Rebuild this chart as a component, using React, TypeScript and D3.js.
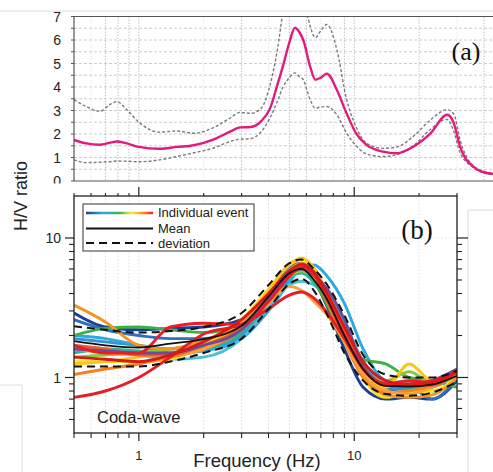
import React from "react";
import * as d3 from "d3";

const W = 493;
const H = 472;

// ---- panel (a): mean H/V with +/- one deviation ----
const freqA = [0.5, 0.57, 0.66, 0.73, 0.79, 0.88, 1.0, 1.25, 1.5, 1.8, 2.2, 2.65, 2.95, 3.3, 3.7, 4.07, 4.4, 4.67, 5.0, 5.3, 5.55, 5.8, 6.24, 6.6, 7.0, 7.46, 8.3, 9.2, 10.2, 11.4, 13.6, 15.8, 18.8, 22.6, 27, 29, 31, 35.7, 41.7, 48];
const meanA = [1.75, 1.6, 1.54, 1.62, 1.68, 1.6, 1.45, 1.37, 1.45, 1.52, 1.75, 2.1, 2.28, 2.3, 2.55, 3.1, 4.1, 4.9, 5.9, 6.52, 6.35, 6.0, 4.88, 4.31, 4.4, 4.57, 3.88, 2.89, 2.03, 1.54, 1.25, 1.18, 1.46, 2.03, 2.82, 2.46, 1.46, 0.61, 0.33, 0.28];
const upperA = [3.46, 3.17, 2.96, 3.24, 3.38, 3.03, 2.5, 2.08, 2.13, 2.03, 2.25, 2.68, 2.92, 2.88, 3.1, 4.1, 5.6, 7.2, 8.5, 9, 9, 8, 6.6, 6.1, 6.4, 6.66, 5.6, 3.5, 2.3, 1.61, 1.39, 1.45, 1.9, 2.6, 3.03, 2.85, 1.75, 0.65, 0.36, 0.3];
const lowerA = [0.9, 0.78, 0.8, 0.82, 0.85, 0.84, 0.82, 0.9, 1.04, 1.2, 1.39, 1.68, 1.78, 1.8, 2.1, 2.7, 3.4, 4.0, 4.4, 4.6, 4.45, 4.31, 3.46, 3.1, 3.15, 3.17, 2.82, 2.05, 1.5, 1.15, 1.04, 1.12, 1.5, 2.2, 2.62, 2.1, 1.2, 0.58, 0.3, 0.26];
const yTicksA = [0, 1, 2, 3, 4, 5, 6, 7];
const gridStrongA = [0.7, 0.8, 0.9, 1, 3, 5, 6, 9, 10, 20, 40];
const gridFaintA = [0.6, 2, 4, 7, 8, 30];

// ---- panel (b): coda-wave H/V of individual events ----
const freqB = [0.5, 0.7, 1, 1.4, 2, 3, 4, 5, 5.7, 6.5, 7.5, 9, 11, 14, 18, 23, 30];
const eventColors = ["#1c3f95", "#2e6fc0", "#3b8fd9", "#29abe2", "#48c1d9", "#2bb3a0", "#3fae49", "#8dc63f", "#f9e21c", "#fcc419", "#f7941d", "#f58220", "#f7a13a", "#f15a24", "#6a4c9c", "#ed1c24", "#e41e26", "#d7191c"];
const ev1 = [2.9, 2.3, 2.2, 2.25, 2.3, 2.6, 4.2, 6.0, 6.3, 5.0, 3.2, 1.6, 0.85, 0.7, 0.72, 0.7, 0.95];
const ev2 = [2.6, 2.2, 2.0, 1.9, 1.9, 2.3, 3.9, 6.2, 6.6, 5.6, 3.8, 2.0, 1.05, 0.8, 0.85, 0.7, 1.0];
const ev3 = [1.9, 1.8, 1.7, 1.6, 1.6, 2.0, 3.3, 5.0, 6.0, 5.3, 3.6, 2.1, 1.1, 0.85, 0.82, 0.85, 1.05];
const ev4 = [2.0, 1.9, 1.7, 1.5, 1.55, 1.9, 3.0, 4.8, 6.2, 6.4, 5.3, 3.4, 1.6, 0.95, 0.9, 0.95, 1.1];
const ev5 = [1.7, 1.6, 1.45, 1.35, 1.4, 1.9, 3.2, 4.6, 4.9, 4.6, 3.8, 2.5, 1.3, 0.9, 0.95, 0.8, 1.0];
const ev6 = [1.5, 1.6, 1.55, 1.5, 1.6, 2.1, 3.5, 5.2, 5.6, 4.8, 3.4, 1.9, 1.1, 0.92, 0.85, 0.9, 1.1];
const ev7 = [2.0, 2.25, 2.3, 2.2, 2.1, 2.4, 3.8, 5.6, 6.0, 5.0, 3.3, 1.8, 1.35, 1.25, 1.0, 0.95, 0.85];
const ev8 = [1.4, 1.45, 1.5, 1.6, 1.8, 2.3, 3.6, 5.3, 5.8, 5.2, 3.6, 2.0, 1.1, 0.95, 1.1, 0.92, 1.0];
const ev9 = [1.3, 1.3, 1.3, 1.35, 1.7, 2.6, 4.3, 6.4, 7.0, 5.9, 3.9, 2.1, 1.0, 0.72, 0.78, 0.8, 1.0];
const ev10 = [1.25, 1.3, 1.4, 1.5, 1.7, 2.5, 4.2, 6.5, 7.2, 6.1, 4.0, 2.2, 1.1, 0.85, 1.25, 0.95, 1.05];
const ev11 = [3.3, 2.5, 1.7, 1.6, 1.85, 2.4, 3.9, 5.9, 6.6, 5.5, 3.7, 2.0, 1.05, 0.75, 0.72, 0.75, 1.0];
const ev12 = [1.05, 1.15, 1.25, 1.4, 1.6, 2.2, 3.6, 5.6, 6.3, 5.4, 3.5, 1.8, 1.0, 0.78, 0.8, 0.88, 1.1];
const ev13 = [1.6, 1.5, 1.45, 1.45, 1.6, 2.3, 3.4, 4.5, 4.2, 3.5, 2.8, 1.8, 1.05, 0.8, 0.76, 0.85, 1.05];
const ev14 = [1.7, 1.6, 1.45, 1.45, 1.7, 2.3, 3.8, 5.8, 6.4, 5.6, 3.9, 2.2, 1.2, 0.9, 0.9, 0.88, 1.1];
const ev15 = [1.6, 1.55, 1.5, 1.5, 1.7, 2.2, 3.6, 5.5, 6.0, 5.4, 4.3, 2.6, 1.2, 0.9, 0.88, 0.95, 1.15];
const ev16 = [1.7, 1.5, 1.5, 2.3, 2.45, 2.4, 3.5, 5.3, 6.2, 5.5, 3.6, 2.0, 1.15, 0.9, 0.95, 0.92, 1.1];
const ev17 = [0.72, 0.8, 1.0, 1.4, 2.05, 2.4, 3.1, 3.9, 4.1, 3.7, 2.9, 1.9, 1.15, 0.88, 0.9, 0.95, 1.08];
const ev18 = [1.4, 1.35, 1.3, 1.45, 1.8, 2.6, 4.0, 5.8, 6.5, 5.7, 4.0, 2.3, 1.3, 0.95, 0.88, 0.92, 1.12];
const events = [ev1, ev2, ev3, ev4, ev5, ev6, ev7, ev8, ev9, ev10, ev11, ev12, ev13, ev14, ev15, ev16, ev17, ev18];
const meanB = [1.82, 1.7, 1.64, 1.75, 1.88, 2.35, 3.8, 5.6, 6.0, 5.0, 3.6, 2.0, 1.15, 0.87, 0.86, 0.89, 1.03];
const upperB = [2.33, 2.2, 2.1, 2.15, 2.3, 2.9, 4.6, 6.6, 7.0, 6.0, 4.6, 2.8, 1.45, 1.05, 1.0, 1.0, 1.12];
const lowerB = [1.2, 1.2, 1.2, 1.3, 1.5, 1.9, 3.1, 4.7, 5.1, 4.2, 2.8, 1.5, 0.95, 0.76, 0.74, 0.78, 0.93];

const majorX = [1, 10];
const minorX = [0.5, 0.6, 0.7, 0.8, 0.9, 2, 3, 4, 5, 6, 7, 8, 9, 20, 30];
const majorY = [1, 10];
const minorY = [0.5, 0.6, 0.7, 0.8, 0.9, 2, 3, 4, 5, 6, 7, 8, 9];

const sans = "Arial, 'Liberation Sans', Helvetica, sans-serif";
const serif = "'Times New Roman', 'Liberation Serif', serif";

export default function App() {
  // shared log frequency scale (panel (a) extends past 30 Hz)
  const x = d3.scaleLog().domain([0.5, 30]).range([74, 457]);
  const yA = d3.scaleLinear().domain([0, 7]).range([181, 16.5]);
  const yB = d3.scaleLog().domain([0.4, 20]).range([433, 196]);

  const lineA = (vals: number[]) =>
    d3.line<number>()
      .x((_, i) => x(freqA[i]))
      .y((d) => yA(d))
      .curve(d3.curveMonotoneX)(vals) || "";
  const lineB = (vals: number[]) =>
    d3.line<number>()
      .x((_, i) => x(freqB[i]))
      .y((d) => yB(d))
      .curve(d3.curveMonotoneX)(vals) || "";

  const gridYA = d3.range(0.5, 7, 0.5);

  return (
    <svg width={W} height={H} style={{ position: "absolute", left: 0, top: 0, background: "#fff" }} fontFamily={sans}>
      <defs>
        <clipPath id="clipA">
          <rect x={74} y={16.5} width={W - 74} height={164.5} />
        </clipPath>
        <clipPath id="clipB">
          <rect x={74} y={196} width={383} height={237} />
        </clipPath>
        <linearGradient id="rainbow" gradientUnits="userSpaceOnUse" x1={86} x2={153} y1={0} y2={0}>
          <stop offset="0" stopColor="#2b3990" />
          <stop offset="0.25" stopColor="#29abe2" />
          <stop offset="0.5" stopColor="#39b54a" />
          <stop offset="0.68" stopColor="#f9ed32" />
          <stop offset="0.85" stopColor="#f7941d" />
          <stop offset="1" stopColor="#ed1c24" />
        </linearGradient>
      </defs>

      {/* page frame bits of the scanned figure */}
      <line x1={0} x2={W} y1={11} y2={11} stroke="#dcdcdc" strokeWidth={1} />
      <path d={`M${W},210 H468 V${H}`} fill="none" stroke="#d9d9d9" strokeWidth={1} />
      <path d={`M0,385 H22 V${H}`} fill="none" stroke="#dedede" strokeWidth={1} />

      {/* ---------- panel (a) ---------- */}
      <g>
        {gridYA.map((v) => (
          <line key={"gya" + v} x1={74} x2={W} y1={yA(v)} y2={yA(v)} stroke="#c6c6c6" strokeDasharray="3 2" strokeWidth={0.9} />
        ))}
        {gridFaintA.map((f) => (
          <line key={"gfa" + f} x1={x(f)} x2={x(f)} y1={16.5} y2={181} stroke="#e6e6e6" strokeDasharray="1.5 1.5" strokeWidth={1} />
        ))}
        {gridStrongA.map((f) => (
          <line key={"gsa" + f} x1={x(f)} x2={x(f)} y1={16.5} y2={181} stroke="#c2c2c2" strokeDasharray="1.5 1.5" strokeWidth={1} />
        ))}
        <g clipPath="url(#clipA)">
          <path d={lineA(upperA)} fill="none" stroke="#7a7a7a" strokeWidth={1.4} strokeDasharray="3 2" />
          <path d={lineA(lowerA)} fill="none" stroke="#7a7a7a" strokeWidth={1.4} strokeDasharray="3 2" />
          <path d={lineA(meanA)} fill="none" stroke="#e5197a" strokeWidth={2.4} />
        </g>
        <line x1={74} x2={W} y1={16.5} y2={16.5} stroke="#555" strokeWidth={1.2} />
        <line x1={74} x2={74} y1={16.5} y2={181} stroke="#555" strokeWidth={1.2} />
        <line x1={74} x2={W} y1={181} y2={181} stroke="#555" strokeWidth={1.2} />
        {d3.range(0, 7.01, 0.5).map((v) => (
          <line key={"tya" + v} x1={71} x2={74} y1={yA(v)} y2={yA(v)} stroke="#555" strokeWidth={1} />
        ))}
        {yTicksA.map((v) => (
          <text key={"lya" + v} x={61} y={yA(v)} dy="0.36em" textAnchor="end" fontSize={14} fill="#222">
            {v}
          </text>
        ))}
        <text x={466} y={60} textAnchor="middle" fontFamily={serif} fontSize={26} fill="#111">
          (a)
        </text>
      </g>

      {/* panel (b) sits on its own white sheet, covering the bottom of (a) */}
      <rect x={30} y={183.5} width={436} height={H - 183.5} fill="#fff" />

      {/* ---------- panel (b) ---------- */}
      <g>
        {[...majorX, ...minorX].map((f) => (
          <line key={"gxb" + f} x1={x(f)} x2={x(f)} y1={196} y2={433} stroke="#dedede" strokeDasharray="1.5 2" strokeWidth={1} />
        ))}
        {[1, 10].map((v) => (
          <line key={"gyb" + v} x1={74} x2={457} y1={yB(v)} y2={yB(v)} stroke="#e6e6e6" strokeDasharray="1.5 2" strokeWidth={1} />
        ))}
        <g clipPath="url(#clipB)">
          {events.map((vals, i) => (
            <path key={"ev" + i} d={lineB(vals)} fill="none" stroke={eventColors[i]} strokeWidth={2.9} strokeLinejoin="round" />
          ))}
          <path d={lineB(meanB)} fill="none" stroke="#111" strokeWidth={1.8} />
          <path d={lineB(upperB)} fill="none" stroke="#111" strokeWidth={2} strokeDasharray="8 5" />
          <path d={lineB(lowerB)} fill="none" stroke="#111" strokeWidth={2} strokeDasharray="8 5" />
        </g>

        {/* frame */}
        <rect x={74} y={196} width={383} height={237} fill="none" stroke="#222" strokeWidth={1.3} />

        {/* x ticks, bottom (outward) and top (outward) */}
        {minorX.map((f) => (
          <g key={"txb" + f}>
            <line x1={x(f)} x2={x(f)} y1={433} y2={438} stroke="#222" strokeWidth={1.1} />
            <line x1={x(f)} x2={x(f)} y1={196} y2={193} stroke="#222" strokeWidth={1.1} />
          </g>
        ))}
        {majorX.map((f) => (
          <g key={"Txb" + f}>
            <line x1={x(f)} x2={x(f)} y1={433} y2={441} stroke="#222" strokeWidth={1.2} />
            <line x1={x(f)} x2={x(f)} y1={196} y2={187} stroke="#222" strokeWidth={1.2} />
            <text x={x(f)} y={460} textAnchor="middle" fontSize={13} fill="#222">
              {f}
            </text>
          </g>
        ))}

        {/* y ticks, left and right (outward) */}
        {minorY.map((v) => (
          <g key={"tyb" + v}>
            <line x1={74} x2={69} y1={yB(v)} y2={yB(v)} stroke="#222" strokeWidth={1.1} />
            <line x1={457} x2={462} y1={yB(v)} y2={yB(v)} stroke="#222" strokeWidth={1.1} />
          </g>
        ))}
        {majorY.map((v) => (
          <g key={"Tyb" + v}>
            <line x1={74} x2={65} y1={yB(v)} y2={yB(v)} stroke="#222" strokeWidth={1.2} />
            <line x1={457} x2={468} y1={yB(v)} y2={yB(v)} stroke="#222" strokeWidth={1.2} />
            <text x={61} y={yB(v)} dy="0.36em" textAnchor="end" fontSize={14} fill="#222">
              {v}
            </text>
          </g>
        ))}

        {/* legend */}
        <rect x={83} y={204} width={171} height={47} fill="#fff" stroke="#444" strokeWidth={1.1} />
        <line x1={86} x2={153} y1={213} y2={213} stroke="url(#rainbow)" strokeWidth={2.6} />
        <line x1={86} x2={153} y1={228.5} y2={228.5} stroke="#111" strokeWidth={2} />
        <line x1={86} x2={153} y1={243} y2={243} stroke="#111" strokeWidth={2} strokeDasharray="8 5" />
        <text x={158} y={217} fontSize={13} fill="#222">Individual event</text>
        <text x={158} y={233} fontSize={13} fill="#222">Mean</text>
        <text x={158} y={248} fontSize={13} fill="#222">deviation</text>

        <text x={417} y={239} textAnchor="middle" fontFamily={serif} fontSize={27} fill="#111">
          (b)
        </text>
        <text x={97} y={423} fontSize={16.5} fill="#222">
          Coda-wave
        </text>
        <text x={257} y={467} textAnchor="middle" fontSize={18.5} fill="#222">
          Frequency (Hz)
        </text>
      </g>

      <text transform="translate(27,196) rotate(-90)" textAnchor="middle" fontSize={18} fill="#222">
        H/V ratio
      </text>
    </svg>
  );
}
